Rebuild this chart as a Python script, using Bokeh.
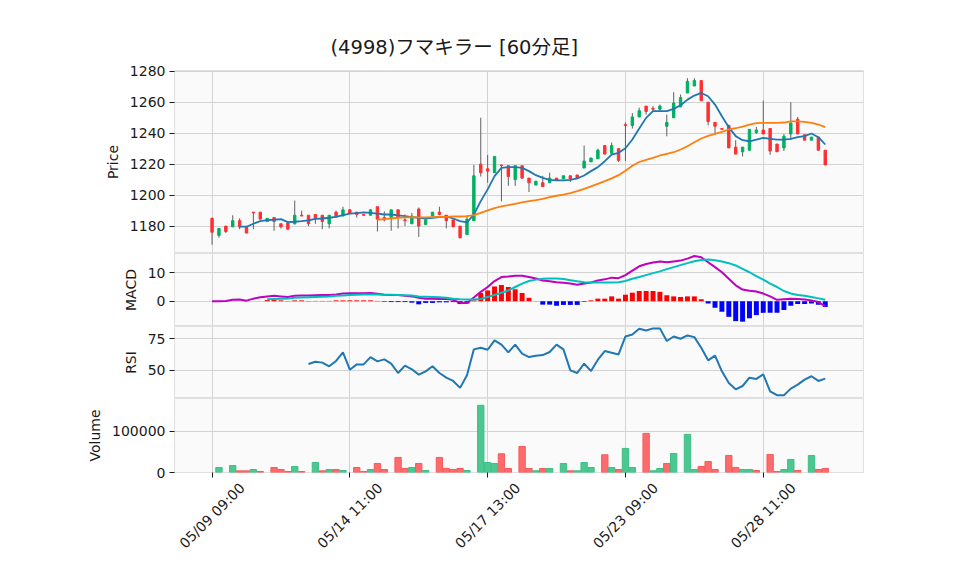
import math
from bokeh.plotting import figure
from bokeh.layouts import column
from bokeh.models import (Range1d, FixedTicker, SingleIntervalTicker, PrintfTickFormatter,
                          Grid, ColumnDataSource, CustomJSTickFormatter)
from bokeh.core.properties import value
from bokeh.embed import file_html
from bokeh.resources import INLINE

nan = float("nan")

title_text = "(4998)フマキラー  [60分足]"
tick_index = [0, 20, 40, 60, 80]
tick_labels = ["05/09 09:00", "05/14 11:00", "05/17 13:00", "05/23 09:00", "05/28 11:00"]

opens = [1185, 1174, 1180, 1179.5, 1183.5, 1179.5, 1189, 1189, 1183, 1185.5,
         1181.5, 1182, 1181.5, 1187, 1187, 1187.5, 1187, 1181.5, 1189, 1186.5,
         1190.5, 1189, 1187.5, 1187, 1192.5, 1185.5, 1185.5, 1190.5, 1184, 1181.5,
         1191, 1181, 1186.5, 1189, 1187, 1184, 1180, 1174.5, 1183.5, 1220,
         1217, 1214.5, 1219.5, 1219, 1210, 1219, 1211, 1206.5, 1208, 1208,
         1211, 1210.5, 1212.5, 1213, 1217.5, 1221.5, 1223.5, 1232, 1227, 1230,
         1245.5, 1245, 1250.5, 1257.5, 1256, 1255.5, 1244.5, 1250, 1257, 1266,
         1270.5, 1274, 1260, 1247, 1243, 1245, 1231, 1228, 1229, 1240.5,
         1242, 1243, 1233, 1230.5, 1239.5, 1249, 1239, 1235.5, 1237.5, 1229]
highs = [1185.5, 1178.5, 1180, 1187, 1185, 1179.5, 1189, 1189, 1185, 1185.5,
         1181.5, 1182, 1196.5, 1190, 1187, 1187.5, 1187, 1187, 1190, 1192.5,
         1191, 1189, 1187.5, 1191, 1192.5, 1189.5, 1190.5, 1190.5, 1187.5, 1188.5,
         1192, 1185, 1189, 1192.5, 1187, 1184, 1180, 1187, 1219.5, 1250,
         1226, 1225, 1219.5, 1219, 1219, 1219, 1211, 1209, 1212.5, 1214.5,
         1211, 1212.5, 1212.5, 1213, 1232, 1224, 1230, 1232, 1234, 1230,
         1247, 1253, 1256.5, 1257.5, 1257.5, 1258.5, 1252, 1266.5, 1265, 1275.5,
         1275.5, 1274, 1260, 1247, 1243, 1245.5, 1235.5, 1231, 1242.5, 1244,
         1261, 1243, 1233, 1239.5, 1260, 1250.5, 1239, 1237.5, 1237.5, 1229]
lows = [1168, 1172.5, 1175.5, 1179.5, 1178, 1175.5, 1178, 1184.5, 1183, 1177,
        1178.5, 1178, 1181, 1186.5, 1180, 1181.5, 1178, 1178.5, 1186, 1186.5,
        1188.5, 1185.5, 1187, 1187, 1176.5, 1183, 1177, 1178.5, 1180, 1181.5,
        1173, 1181, 1186.5, 1187, 1178.5, 1179.5, 1172, 1174.5, 1183.5, 1212,
        1208, 1214.5, 1196, 1206, 1206, 1210.5, 1202, 1206.5, 1205.5, 1208,
        1209.5, 1210.5, 1208.5, 1211, 1217.5, 1221.5, 1223.5, 1226.5, 1227, 1221.5,
        1222, 1243, 1250.5, 1252, 1254, 1254.5, 1238, 1250, 1257, 1266,
        1270.5, 1261, 1245, 1239, 1242.5, 1230.5, 1226.5, 1225, 1229, 1239.5,
        1239.5, 1226, 1228, 1228.5, 1235.5, 1239.5, 1235.5, 1235.5, 1229, 1219.5]
closes = [1176, 1178.5, 1176.5, 1183.5, 1179.5, 1175.5, 1188.5, 1184.5, 1185, 1183,
          1179.5, 1178, 1187, 1186.5, 1181.5, 1185, 1183, 1187, 1186, 1190.5,
          1188.5, 1187.5, 1187, 1190.5, 1184.5, 1184, 1190.5, 1185.5, 1183.5, 1186.5,
          1180, 1184, 1189, 1187.5, 1183.5, 1179.5, 1172.5, 1184.5, 1212.5, 1214.5,
          1215.5, 1225, 1219, 1212, 1219, 1211, 1208, 1209, 1205.5, 1211,
          1209.5, 1212.5, 1210.5, 1211, 1222, 1224, 1229, 1226.5, 1232, 1222.5,
          1245, 1250.5, 1254.5, 1254, 1255.5, 1257.5, 1247, 1259.5, 1263, 1273.5,
          1274, 1261, 1247.5, 1244.5, 1242.5, 1230.5, 1226.5, 1231, 1242.5, 1242,
          1239.5, 1228.5, 1228, 1238, 1246.5, 1239.5, 1235.5, 1237.5, 1229, 1219.5]
volumes = [0, 12200, 0, 17000, 4000, 4000, 7300, 2400, 0, 12200,
           7300, 2400, 14600, 2400, 0, 24400, 4000, 7300, 7300, 4900,
           0, 12200, 2400, 7300, 22000, 7300, 0, 36600, 9800, 12200,
           22000, 4900, 0, 36600, 9800, 7300, 9800, 4900, 0, 163400,
           24400, 22000, 45500, 9800, 0, 63400, 9800, 4100, 9800, 9800,
           0, 22000, 4100, 4100, 24400, 12200, 0, 43100, 12200, 7300,
           58500, 12200, 0, 95100, 4100, 9800, 22000, 46300, 0, 92700,
           7300, 14600, 26800, 7300, 0, 41500, 12200, 7300, 7300, 4900,
           0, 43900, 2400, 7300, 31700, 4900, 0, 41500, 7300, 9800]
ma_short = [nan, nan, nan, nan, 1179.6, 1179.6, 1181.5, 1183.2, 1183.9, 1184.1,
            1184.5, 1182.6, 1182.8, 1183.2, 1183.7, 1184.7, 1184.9, 1185.4, 1186.0, 1187.1,
            1188.0, 1188.4, 1188.8, 1188.6, 1188.0, 1187.5, 1187.5, 1186.9, 1186.5, 1185.8,
            1185.4, 1184.9, 1185.4, 1185.8, 1186.2, 1184.9, 1183.2, 1182.4, 1187.5, 1196.1,
            1203.7, 1212.3, 1217.6, 1218.1, 1218.1, 1217.6, 1215.5, 1212.9, 1211.2, 1209.9,
            1209.5, 1209.5, 1209.9, 1210.8, 1212.7, 1215.5, 1218.1, 1221.9, 1226.2, 1227.3,
            1230.3, 1235.9, 1243.0, 1249.9, 1254.2, 1254.2, 1254.2, 1255.7, 1258.1, 1261.7,
            1264.3, 1266.0, 1263.9, 1258.5, 1251.0, 1243.9, 1238.1, 1235.5, 1234.8, 1235.9,
            1237.0, 1236.3, 1235.9, 1235.9, 1236.3, 1237.4, 1238.1, 1239.8, 1237.4, 1232.7]
ma_long = [nan, nan, nan, nan, nan, nan, nan, nan, nan, nan,
           nan, nan, nan, nan, nan, nan, nan, nan, nan, nan,
           nan, nan, nan, nan, 1184.1, 1184.5, 1184.9, 1185.4, 1185.6, 1185.8,
           1185.6, 1185.6, 1185.8, 1186.0, 1186.0, 1186.2, 1186.2, 1186.5, 1187.1, 1188.6,
           1190.1, 1191.6, 1192.7, 1193.5, 1194.4, 1195.3, 1196.1, 1196.8, 1197.6, 1198.7,
           1199.6, 1200.4, 1201.3, 1202.6, 1204.1, 1205.6, 1207.3, 1209.0, 1210.8, 1212.9,
           1215.8, 1219.0, 1221.4, 1222.8, 1224.1, 1225.6, 1226.7, 1227.7, 1229.5, 1231.6,
           1234.2, 1236.6, 1238.3, 1239.6, 1240.9, 1242.4, 1243.2, 1244.3, 1245.6, 1246.5,
           1246.7, 1246.7, 1246.7, 1246.9, 1247.7, 1247.7, 1247.3, 1246.7, 1245.6, 1243.9]
macd_line = [0.0, 0.0, 0.1, 0.5, 0.6, 0.2, 0.9, 1.4, 1.7, 1.9,
             1.7, 1.5, 1.9, 2.0, 2.0, 2.1, 2.2, 2.2, 2.4, 2.7,
             2.8, 2.8, 2.8, 2.9, 2.6, 2.3, 2.2, 2.2, 1.9, 1.7,
             1.2, 0.9, 0.9, 0.8, 0.8, 0.5, -0.6, -0.6, 1.3, 3.3,
             5.0, 7.1, 8.5, 8.7, 9.0, 9.0, 8.5, 8.0, 7.3, 7.0,
             6.7, 6.5, 6.2, 5.8, 6.2, 6.6, 7.3, 7.7, 8.3, 8.1,
             9.2, 10.8, 12.3, 13.1, 13.6, 14.0, 13.7, 14.0, 14.3, 15.0,
             15.9, 15.5, 13.7, 12.0, 10.2, 7.9, 5.6, 4.1, 3.7, 3.4,
             2.7, 1.7, 0.5, 0.7, 0.9, 0.8, 0.6, 0.3, -0.3, -1.7]
signal_line = [nan, nan, nan, nan, nan, nan, nan, nan, 0.7, 0.8,
               0.9, 1.0, 1.2, 1.3, 1.4, 1.5, 1.6, 1.7, 1.9, 2.0,
               2.2, 2.3, 2.4, 2.4, 2.4, 2.3, 2.3, 2.2, 2.1, 2.0,
               1.7, 1.6, 1.5, 1.4, 1.2, 0.9, 0.7, 0.6, 0.6, 0.8,
               1.5, 2.2, 3.0, 3.8, 5.0, 6.2, 7.1, 7.6, 7.9, 8.0,
               8.0, 7.8, 7.4, 7.0, 6.7, 6.6, 6.6, 6.6, 6.6, 6.7,
               7.1, 7.9, 8.5, 9.2, 9.9, 10.5, 11.3, 12.0, 12.7, 13.4,
               14.1, 14.5, 14.7, 14.4, 14.0, 13.4, 12.6, 11.4, 10.2, 8.8,
               7.6, 6.2, 5.0, 3.6, 2.7, 2.2, 1.9, 1.5, 1.0, 0.5]
macd_hist = [nan, nan, nan, nan, nan, nan, nan, nan, 0.4, 0.4,
             0.3, 0.1, 0.3, 0.3, 0.1, 0.1, 0.1, 0.1, 0.3, 0.3,
             0.3, 0.3, 0.3, 0.3, 0.1, -0.2, -0.3, -0.3, -0.3, -0.5,
             -1.1, -0.6, -0.6, -0.4, -0.4, -0.3, -1.0, -0.8, 0.3, 2.9,
             3.8, 5.2, 5.7, 5.0, 4.2, 2.9, 1.2, 0.05, -1.2, -1.2,
             -1.6, -1.3, -1.3, -1.3, -0.2, 0.3, 0.9, 0.9, 1.7, 0.9,
             2.3, 3.0, 3.6, 3.6, 3.6, 3.3, 2.1, 1.7, 1.5, 1.7,
             1.7, 0.7, -0.8, -2.3, -3.7, -5.5, -7.0, -7.2, -6.0, -4.9,
             -4.1, -4.1, -4.1, -3.1, -1.6, -1.0, -1.0, -0.8, -1.2, -2.0]
rsi_line = [nan, nan, nan, nan, nan, nan, nan, nan, nan, nan,
            nan, nan, nan, nan, 55.0, 56.8, 56.1, 53.2, 57.4, 64.2,
            50.5, 54.7, 54.7, 60.5, 57.1, 58.7, 55.3, 47.9, 53.7, 50.8,
            46.6, 49.2, 53.2, 47.9, 44.2, 41.6, 36.1, 46.1, 66.6, 67.9,
            66.3, 73.7, 70.3, 64.2, 70.4, 63.2, 60.5, 61.6, 62.1, 64.5,
            70.3, 66.6, 50.0, 47.9, 55.3, 49.5, 58.4, 65.3, 63.9, 62.6,
            76.8, 78.4, 82.9, 81.6, 83.2, 83.2, 73.2, 76.8, 75.0, 77.6,
            76.3, 67.9, 57.9, 61.6, 49.2, 40.0, 35.0, 37.6, 44.2, 43.2,
            46.8, 33.4, 30.3, 30.3, 35.5, 38.7, 42.6, 45.3, 41.6, 43.4]

# ---------------- style ----------------
UP, DOWN, WICK = "#00b060", "#fe3032", "#606060"
VUP, VDOWN = "#4dc790", "#fd6b6c"
VUP_EDGE, VDOWN_EDGE = "#3cbf85", "#f85a5c"
GRID, OUTLINE, BG = "#d3d3d3", "#e0e0e0", "#fafafa"
FONT = "DejaVu Sans"
TITLE_FONT = "DejaVu Sans, Noto Sans CJK JP"
TXT = "#1a1a1a"
LEFT, FRAME_W, RIGHT = 174, 689, 45
W = LEFT + FRAME_W + RIGHT
VOL_BOTTOM = 9       # border below the volume frame (holds the x ticks)
AXIS_H = 82          # height of the strip carrying the rotated date labels (px)
LABEL_DROP = 34      # centre of the rotated labels below the strip top (px)
TICK_LEN = 5

xs = list(range(len(closes)))
x_range = Range1d(-5.45, 94.55)


def make_fig(height, y_range, ylabel, top=0, bottom=0, with_xaxis=False):
    p = figure(width=W, height=height, x_range=x_range, y_range=y_range,
               output_backend="svg", toolbar_location=None,
               x_axis_location="below" if with_xaxis else None,
               min_border_left=LEFT, min_border_right=RIGHT,
               min_border_top=top, min_border_bottom=bottom,
               background_fill_color=BG, border_fill_color="white",
               outline_line_color=OUTLINE, outline_line_width=1)
    ax = p.yaxis[0]
    ax.axis_label = ylabel
    ax.axis_label_text_font = FONT
    ax.axis_label_text_font_size = "14px"
    ax.axis_label_text_font_style = "normal"
    ax.axis_label_text_color = TXT
    ax.axis_label_standoff = 6
    ax.major_label_text_font = FONT
    ax.major_label_text_font_size = "14px"
    ax.major_label_text_color = TXT
    ax.major_label_standoff = 4
    ax.axis_line_color = None
    ax.major_tick_line_color = TXT
    ax.major_tick_out = TICK_LEN
    ax.major_tick_in = 0
    ax.minor_tick_line_color = None
    p.ygrid.grid_line_color = GRID
    if with_xaxis:
        xa = p.xaxis[0]
        xa.ticker = FixedTicker(ticks=tick_index)
        xa.formatter = CustomJSTickFormatter(code="return ''")
        xa.major_label_text_font_size = "0px"
        xa.major_label_standoff = 0
        xa.axis_line_color = None
        xa.major_tick_line_color = TXT
        xa.major_tick_out = TICK_LEN
        xa.major_tick_in = 0
        xa.minor_tick_line_color = None
        p.xgrid.grid_line_color = GRID
    else:
        p.add_layout(Grid(dimension=0, ticker=FixedTicker(ticks=tick_index),
                          grid_line_color=GRID))
    return p


# ---------------- price panel ----------------
p1 = make_fig(70 + 183, Range1d(1162.3, 1280.5), "Price", top=70)
p1.yaxis[0].ticker = SingleIntervalTicker(interval=20)
p1.title.text = title_text
p1.title.align = "left"
p1.title.offset = 156
p1.title.text_font = TITLE_FONT
p1.title.text_font_size = "19.5px"
p1.title.text_font_style = "normal"
p1.title.text_color = TXT
p1.title.standoff = 23

cs = ColumnDataSource(dict(
    x=xs, o=opens, h=highs, l=lows, c=closes,
    top=[max(o, c) for o, c in zip(opens, closes)],
    bot=[min(o, c) for o, c in zip(opens, closes)],
    color=[UP if c >= o else DOWN for o, c in zip(opens, closes)],
))
p1.segment(x0="x", y0="l", x1="x", y1="h", source=cs, line_color=WICK, line_width=1)
p1.vbar(x="x", width=0.35, top="top", bottom="bot", source=cs,
        fill_color="color", line_color="color", line_width=1)
p1.line(xs, ma_short, line_color="#1f77b4", line_width=1.8)
p1.line(xs, ma_long, line_color="#ff7f0e", line_width=1.8)

# ---------------- MACD panel ----------------
p2 = make_fig(73, Range1d(-8.9, 16.8), "MACD")
p2.yaxis[0].ticker = SingleIntervalTicker(interval=10)
hx = [x for x, h in zip(xs, macd_hist) if h == h]
hv = [h for h in macd_hist if h == h]
hs = ColumnDataSource(dict(x=hx, top=hv, color=["#ff0000" if h >= 0 else "#0000ff" for h in hv]))
p2.vbar(x="x", width=0.72, top="top", bottom=0, source=hs, fill_color="color", line_color=None)
p2.line(xs, macd_line, line_color="#bf00bf", line_width=2)
p2.line(xs, signal_line, line_color="#00bfbf", line_width=2)

# ---------------- RSI panel ----------------
p3 = make_fig(72, Range1d(27.7, 84.7), "RSI")
p3.yaxis[0].ticker = SingleIntervalTicker(interval=25)
p3.line(xs, rsi_line, line_color="#1f77b4", line_width=2)

# ---------------- Volume panel ----------------
p4 = make_fig(74 + VOL_BOTTOM, Range1d(0, 180000), "Volume",
              bottom=VOL_BOTTOM, with_xaxis=True)
p4.yaxis[0].ticker = FixedTicker(ticks=[0, 100000])
p4.yaxis[0].formatter = PrintfTickFormatter(format="%d")
vx, vv, vf, vl = [], [], [], []
for i, v in enumerate(volumes):
    if v <= 0:
        continue
    up = i == 0 or closes[i] >= closes[i - 1]
    vx.append(xs[i]); vv.append(v)
    vf.append(VUP if up else VDOWN); vl.append(VUP_EDGE if up else VDOWN_EDGE)
vs = ColumnDataSource(dict(x=vx, top=vv, fill=vf, line=vl))
p4.vbar(x="x", width=0.92, top="top", bottom=0, source=vs,
        fill_color="fill", line_color="line", line_width=1)

# ---------------- date labels strip (45° labels centred on their ticks) ----------------
p5 = figure(width=W, height=AXIS_H, x_range=x_range, y_range=Range1d(-AXIS_H, 0),
            output_backend="svg", toolbar_location=None,
            x_axis_location=None, y_axis_location=None,
            min_border_left=LEFT, min_border_right=RIGHT,
            min_border_top=0, min_border_bottom=0,
            background_fill_color="white", border_fill_color="white",
            outline_line_color=None)
p5.xgrid.visible = False
p5.ygrid.visible = False
lab_src = ColumnDataSource(dict(x=tick_index, y=[-LABEL_DROP] * len(tick_index),
                                text=tick_labels))
p5.text(x="x", y="y", text="text", source=lab_src, angle=math.pi / 4,
        text_align="center", text_baseline="middle",
        text_font=value(FONT), text_font_size="14px", text_color=TXT)

layout = column(p1, p2, p3, p4, p5, spacing=0)
open("out.html", "w").write(file_html(layout, INLINE))
